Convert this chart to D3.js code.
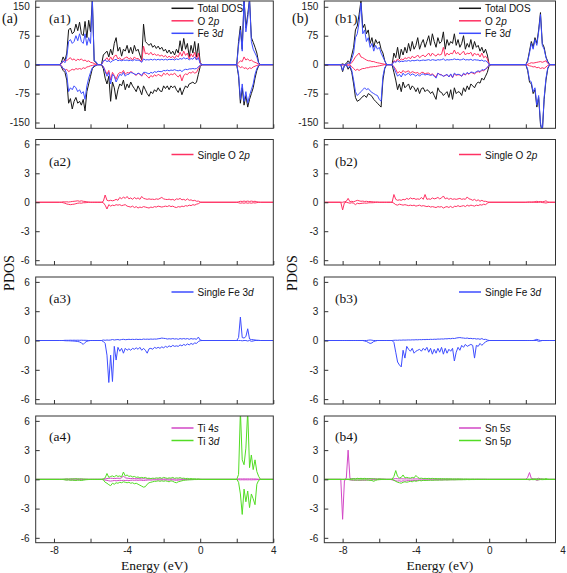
<!DOCTYPE html>
<html><head><meta charset="utf-8">
<script src="https://cdn.jsdelivr.net/npm/d3@7"></script>
<style>html,body{margin:0;padding:0;background:#fff;} svg{display:block;}</style>
</head><body>
<svg id="chart" width="567" height="573"></svg>
<script>
// ---------------- energy grids (eV) ----------------
const energyValenceA = [-7.7,-7.6,-7.5,-7.4,-7.3,-7.2,-7.1,-7.0,-6.9,-6.8,-6.7,-6.6,-6.5,-6.4,-6.3,-6.2,-6.1,-6.0,-5.9,-5.8,-5.7,-5.6];
const energyValenceB = [-8.2,-8.1,-8.0,-7.9,-7.8,-7.7,-7.6,-7.5,-7.4,-7.3,-7.2,-7.1,-7.0,-6.9,-6.8,-6.7,-6.6,-6.5,-6.4,-6.3,-6.2,-6.1,-6.0,-5.9,-5.8,-5.7,-5.6];
const energyMain = [-5.4,-5.3,-5.2,-5.1,-5.0,-4.9,-4.8,-4.7,-4.6,-4.5,-4.4,-4.3,-4.2,-4.1,-4.0,-3.9,-3.8,-3.7,-3.6,-3.5,-3.4,-3.3,-3.2,-3.1,-3.0,-2.9,-2.8,-2.7,-2.6,-2.5,-2.4,-2.3,-2.2,-2.1,-2.0,-1.9,-1.8,-1.7,-1.6,-1.5,-1.4,-1.3,-1.2,-1.1,-1.0,-0.9,-0.8,-0.7,-0.6,-0.5,-0.4,-0.3,-0.2,-0.1,0.0,0.1];
const energyConduction = [2.0,2.1,2.2,2.3,2.4,2.5,2.6,2.7,2.8,2.9,3.0,3.1,3.2,3.3];

// ---------------- tick labels ----------------
const xTickValues = [-8,-6,-4,-2,0,2,4];
const xTickLabels = [-8,-4,0,4];
const dosTicks = [-150,-75,0,75,150];
const pdosTicks = [-6,-3,0,3,6];

// ---------------- (a1) ----------------
const a1TotUp = [0, 5,20,10,30,90,95,80,85,105,88, 110,80,75,112,70,115,85,170,10,5, 0,
 0, 25,30,35,20,40,25,55,70,35,45, 22,40,35,50,30,45,28,50,35,40, 25,12,105,60,55,50,55,45,50,42, 48,40,45,35,40,30,38,28,35,25, 40,30,62,35,68,40,55,20,50,30, 60,20,55,5,0,
 0, 60,100,40,170,95,130,170,70,58,45, 30,5,0];
const a1TotDn = [0, -5,-15,-20,-40,-100,-88,-115,-95,-85,-100, -95,-105,-90,-120,-70,-50,-30,-10,-5,-2, 0,
 0, -10,-35,-50,-30,-95,-45,-60,-90,-65,-50, -55,-40,-65,-50,-60,-45,-55,-62,-70,-55, -65,-78,-55,-65,-75,-82,-70,-75,-65,-70, -60,-68,-70,-55,-62,-55,-65,-55,-60,-55, -65,-72,-60,-78,-65,-55,-60,-50,-48,-45, -50,-45,-25,-5,0,
 0, -30,-100,-60,-105,-80,-110,-90,-75,-60,-35, -15,-3,0];
const a1OUp = [0, 2,8,12,10,15,18,12,15,10,14, 12,15,10,12,8,10,6,5,3,1, 0,
 0, 8,12,18,10,20,12,22,25,15,18, 12,15,18,20,14,18,12,20,15,16, 12,8,48,28,30,26,32,25,28,24, 26,22,25,20,24,18,22,18,22,16, 24,20,32,22,35,24,30,15,28,20, 32,12,30,3,0,
 0, 5,10,8,20,12,15,10,12,8,6, 4,1,0];
const a1ODn = [0, -2,-10,-15,-12,-18,-15,-12,-14,-10,-12, -10,-12,-8,-10,-6,-5,-3,-2,-1,0, 0,
 0, -5,-15,-25,-15,-40,-20,-28,-38,-25,-20, -22,-15,-25,-20,-22,-18,-20,-25,-28,-22, -25,-30,-22,-25,-30,-35,-28,-32,-26,-30, -25,-28,-30,-22,-26,-22,-28,-24,-26,-22, -28,-32,-26,-42,-28,-24,-26,-20,-22,-18, -22,-20,-10,-2,0,
 0, -3,-8,-5,-10,-8,-12,-8,-10,-6,-4, -2,-1,0];
const a1FeUp = [0, 3,10,5,20,60,65,55,60,75,62, 80,60,55,80,50,70,55,165,10,8, 0,
 0, 10,12,8,10,6,10,12,14,10,12, 10,12,11,12,10,12,10,13,11,12, 10,6,15,12,13,12,14,12,14,12, 14,12,14,12,14,12,14,13,14,12, 15,13,16,14,18,15,17,12,16,14, 20,12,18,3,0,
 0, 50,90,35,170,85,120,170,60,40,30, 20,3,0];
const a1FeDn = [0, -3,-10,-12,-25,-70,-60,-65,-55,-60,-70, -65,-75,-70,-90,-55,-35,-20,-8,-3,-2, 0,
 0, -5,-18,-30,-20,-50,-25,-30,-45,-35,-25, -28,-20,-30,-25,-25,-20,-22,-24,-26,-22, -24,-28,-20,-20,-22,-24,-20,-22,-18,-20, -17,-18,-18,-15,-16,-14,-16,-14,-15,-13, -15,-16,-14,-18,-14,-12,-13,-11,-11,-10, -11,-10,-6,-1,0,
 0, -25,-90,-50,-95,-70,-100,-80,-65,-50,-25, -10,-2,0];

// ---------------- (a2) single O 2p ----------------
const a2OUp = [0, 0,0.05,0.03,0.05,0.02,0.05,0.08,0.1,0.12,0.15, 0.1,0.15,0.1,0.08,0.05,0.02,0,0,0,0, 0,
 0, 0.1,0.75,0.2,0.15,0.2,0.15,0.2,0.3,0.2,0.5, 0.35,0.55,0.4,0.6,0.35,0.45,0.3,0.5,0.35,0.45, 0.3,0.6,0.4,0.35,0.3,0.35,0.3,0.32,0.28,0.35, 0.3,0.4,0.5,0.35,0.3,0.28,0.32,0.25,0.3,0.2, 0.35,0.3,0.4,0.25,0.3,0.2,0.35,0.2,0.25,0.15, 0.2,0.1,0.12,0.02,0,
 0, 0.05,0.1,0.08,0.12,0.08,0.12,0.08,0.12,0.08,0.1, 0.05,0.02,0];
const a2ODn = [0, 0,-0.05,-0.1,-0.18,-0.22,-0.25,-0.22,-0.2,-0.15,-0.1, -0.08,-0.1,-0.05,-0.05,-0.03,0,0,0,0,0, 0,
 0, -0.05,-0.3,-0.7,-0.25,-0.4,-0.3,-0.35,-0.25,-0.3,-0.25, -0.35,-0.3,-0.25,-0.4,-0.45,-0.5,-0.4,-0.55,-0.45,-0.6, -0.5,-0.55,-0.45,-0.5,-0.55,-0.6,-0.5,-0.55,-0.45,-0.5, -0.4,-0.45,-0.5,-0.45,-0.4,-0.45,-0.35,-0.45,-0.4,-0.5, -0.55,-0.45,-0.5,-0.4,-0.45,-0.35,-0.4,-0.3,-0.35,-0.25, -0.3,-0.2,-0.15,-0.02,0,
 0, -0.05,-0.1,-0.06,-0.1,-0.05,-0.1,-0.06,-0.1,-0.05,-0.08, -0.04,-0.01,0];

// ---------------- (a3) single Fe 3d ----------------
const a3FeUp = [0, 0,0,0.02,0.02,0.02,0.03,0.02,0.03,0.02,0.03, 0.02,0.03,0.02,0.02,0.01,0,0,0,0,0, 0,
 0, 0.05,0.02,0.05,0.03,0.05,0.1,0.05,0.08,0.1,0.05, 0.1,0.12,0.08,0.1,0.12,0.1,0.12,0.1,0.13,0.1, 0.12,0.1,0.15,0.12,0.14,0.12,0.15,0.13,0.15,0.14, 0.18,0.2,0.25,0.22,0.2,0.15,0.18,0.15,0.2,0.15, 0.18,0.12,0.2,0.15,0.2,0.15,0.2,0.12,0.2,0.15, 0.18,0.12,0.35,0.05,0,
 0, 0.3,2.4,0.3,0.25,0.4,1.2,0.15,0.1,0.08,0.05, 0.03,0.02,0];
const a3FeDn = [0, 0,0,-0.02,-0.03,-0.03,-0.04,-0.05,-0.06,-0.08,-0.1, -0.15,-0.25,-0.4,-0.2,-0.08,-0.03,0,0,0,0, 0,
 0, -0.1,-0.3,-1.5,-4.3,-1.5,-4.2,-0.6,-2.0,-0.7,-1.1, -0.8,-1.3,-0.8,-1.0,-0.85,-1.0,-0.8,-0.9,-0.75,-0.9, -0.7,-1.0,-0.8,-1.0,-1.3,-0.85,-0.8,-0.9,-0.7,-0.8, -0.7,-0.8,-0.65,-0.75,-0.6,-0.7,-0.55,-0.65,-0.5,-0.6, -0.55,-0.6,-0.45,-0.55,-0.4,-0.5,-0.35,-0.45,-0.3,-0.4, -0.25,-0.3,-0.1,-0.02,0,
 0, 0,0,-0.03,0,0,-0.05,0,-0.08,-0.05,0, 0,0,0];

// ---------------- (a4) Ti 4s / Ti 3d ----------------
const a4TisUp = [0, 0,0,0.02,0.03,0.02,0.03,0.05,0.04,0.05,0.03, 0.04,0.03,0.02,0.02,0.01,0,0,0,0,0, 0,
 0, 0.02,0.05,0.08,0.1,0.12,0.1,0.08,0.1,0.12,0.1, 0.15,0.35,0.15,0.12,0.1,0.08,0.1,0.08,0.06,0.08, 0.06,0.05,0.06,0.05,0.04,0.05,0.04,0.05,0.04,0.03, 0.04,0.05,0.04,0.03,0.04,0.03,0.04,0.03,0.04,0.03, 0.03,0.02,0.03,0.02,0.03,0.02,0.02,0.02,0.01,0.01, 0.01,0.01,0.01,0,0,
 0, 0.05,0.05,0.04,0.05,0.04,0.05,0.04,0.05,0.04,0.04, 0.03,0.01,0];
const a4TisDn = [0, 0,0,-0.03,-0.05,-0.04,-0.06,-0.05,-0.08,-0.06,-0.05, -0.04,-0.05,-0.03,-0.02,-0.01,0,0,0,0,0, 0,
 0, -0.02,-0.08,-0.1,-0.15,-0.18,-0.15,-0.12,-0.15,-0.12,-0.1, -0.12,-0.1,-0.12,-0.1,-0.12,-0.1,-0.08,-0.1,-0.08,-0.1, -0.08,-0.1,-0.12,-0.1,-0.08,-0.06,-0.08,-0.06,-0.05,-0.06, -0.05,-0.06,-0.05,-0.06,-0.05,-0.06,-0.08,-0.05,-0.06,-0.08, -0.1,-0.08,-0.06,-0.05,-0.04,-0.03,-0.03,-0.02,-0.02,-0.02, -0.01,-0.01,-0.01,0,0,
 0, -0.04,-0.05,-0.04,-0.05,-0.04,-0.05,-0.04,-0.05,-0.04,-0.04, -0.03,-0.01,0];
const a4TidUp = [0, 0,0.02,0.03,0.05,0.03,0.05,0.04,0.05,0.06,0.05, 0.04,0.05,0.03,0.02,0.02,0.01,0,0,0,0, 0,
 0, 0.05,0.15,0.6,0.2,0.3,0.35,0.25,0.4,0.3,0.35, 0.25,0.75,0.35,0.45,0.3,0.35,0.25,0.3,0.2,0.25, 0.15,0.2,0.15,0.2,0.1,0.12,0.08,0.12,0.1,0.15, 0.12,0.18,0.1,0.2,0.15,0.1,0.15,0.12,0.2,0.1, 0.15,0.12,0.18,0.1,0.12,0.08,0.1,0.05,0.08,0.05, 0.06,0.03,0.05,0.01,0,
 0, 0.5,7,2,1.5,3.2,7,1.2,2.5,1.0,2.0, 0.8,0.3,0];
const a4TidDn = [0, 0,-0.02,-0.05,-0.08,-0.05,-0.1,-0.08,-0.1,-0.12,-0.08, -0.1,-0.12,-0.08,-0.05,-0.03,-0.02,0,0,0,0, 0,
 0, -0.05,-0.3,-0.4,-0.55,-0.65,-0.4,-0.5,-0.35,-0.4,-0.3, -0.35,-0.25,-0.3,-0.35,-0.3,-0.4,-0.35,-0.45,-0.4,-0.5, -0.6,-0.7,-0.8,-0.75,-0.5,-0.35,-0.3,-0.25,-0.2,-0.2, -0.15,-0.2,-0.15,-0.2,-0.15,-0.2,-0.25,-0.15,-0.2,-0.3, -0.35,-0.25,-0.2,-0.15,-0.1,-0.08,-0.06,-0.05,-0.04,-0.03, -0.02,-0.02,-0.01,0,0,
 0, -0.3,-1.5,-3.6,-1.0,-2.3,-1.2,-2.9,-1.5,-2.0,-2.6, -0.5,-0.1,0];

// ---------------- (b1) ----------------
const b1TotUp = [0,0, 2,0,3,10,5,25,45,90,100,130, 165,95,105,80,90,55,70,45,65,55, 60,40,30,10,0,
 0, 0,30,18,45,15,40,25,45,30,55, 35,60,40,50,70,40,55,65,45,60, 75,50,80,60,45,70,55,60,85,40, 65,50,60,55,80,50,65,45,55,75, 40,55,45,65,40,60,45,50,35,45, 30,40,25,0,0,
 0, 10,35,60,45,70,55,90,135,55,45, 20,8,0];
const b1TotDn = [0,0, -18,-2,0,-12,-5,-20,-50,-85,-95,-92, -88,-82,-80,-85,-75,-78,-82,-90,-95,-100, -105,-110,-40,-10,0,
 0, 0,-20,-40,-65,-50,-70,-45,-60,-55,-50, -65,-55,-60,-70,-60,-75,-62,-60,-70,-65, -68,-75,-70,-80,-90,-60,-70,-72,-80,-75, -70,-85,-65,-90,-60,-75,-70,-72,-80,-60, -70,-55,-65,-50,-55,-60,-50,-45,-48,-35, -40,-30,-20,-2,0,
 0, -15,-45,-50,-75,-65,-110,-85,-155,-175,-90, -40,-10,0];
const b1OUp = [0,0, 0,0,0,2,1,5,12,20,25,30, 20,18,15,12,10,10,8,8,6,5, 4,3,2,1,0,
 0, 0,10,8,15,10,15,12,18,15,20, 15,22,18,20,25,18,22,25,20,25, 30,22,30,25,22,28,25,27,45,22, 30,25,30,28,38,28,32,25,30,35, 25,30,28,32,22,30,25,28,20,30, 18,22,15,0,0,
 0, 1,3,5,4,5,6,7,8,6,8, 10,3,0];
const b1ODn = [0,0, -1,0,0,-2,-1,-5,-10,-15,-12,-15, -12,-10,-10,-8,-8,-6,-6,-5,-5,-4, -3,-2,-1,0,0,
 0, 0,-5,-12,-22,-18,-22,-15,-20,-18,-16, -22,-18,-20,-22,-20,-25,-20,-20,-24,-22, -22,-26,-24,-28,-32,-22,-25,-26,-30,-28, -26,-32,-25,-34,-24,-28,-26,-27,-30,-24, -27,-22,-25,-20,-22,-24,-20,-18,-20,-15, -16,-12,-8,-1,0,
 0, -1,-3,-4,-6,-5,-8,-7,-10,-8,-10, -6,-2,0];
const b1FeUp = [0,0, 0,0,0,5,2,15,30,70,80,110, 160,80,90,60,70,45,55,35,50,40, 45,30,20,10,0,
 0, 0,8,6,10,7,9,8,10,9,11, 9,11,10,11,12,10,11,12,11,12, 13,11,13,12,11,13,12,13,15,11, 13,12,13,13,15,13,14,12,13,15, 12,13,12,14,11,13,12,12,10,12, 9,10,7,0,0,
 0, 8,30,55,40,65,50,85,130,50,40, 18,6,0];
const b1FeDn = [0,0, -15,-2,0,-8,-3,-15,-40,-70,-80,-75, -70,-65,-60,-65,-62,-68,-72,-75,-78,-80, -90,-95,-30,-8,0,
 0, 0,-8,-20,-30,-25,-32,-22,-28,-25,-22, -28,-24,-26,-30,-25,-30,-25,-24,-27,-25, -26,-28,-26,-30,-35,-22,-26,-27,-30,-28, -25,-32,-24,-33,-22,-26,-25,-26,-30,-22, -26,-20,-24,-19,-20,-22,-18,-16,-18,-13, -14,-11,-7,-1,0,
 0, -12,-40,-45,-70,-60,-105,-80,-150,-175,-85, -35,-8,0];

// ---------------- (b2) single O 2p ----------------
const b2OUp = [0,0, 0,0.05,0.1,0.4,0.05,0.1,0.05,0.12,0.2,0.15, 0.1,0.12,0.08,0.1,0.06,0.08,0.05,0.04,0.03,0.02, 0,0,0,0,0,
 0, 0,0.8,0.3,0.2,0.25,0.2,0.3,0.25,0.4,0.3, 0.45,0.35,0.4,0.3,0.35,0.3,0.5,0.3,0.8,0.3, 0.35,0.3,0.45,0.35,0.4,0.5,0.35,0.45,0.65,0.35, 0.45,0.3,0.4,0.3,0.35,0.3,0.35,0.4,0.3,0.35, 0.3,0.55,0.35,0.3,0.2,0.3,0.15,0.25,0.1,0.2, 0.1,0.1,0.05,0,0,
 0, 0.02,0.03,0.02,0.03,0.05,0.1,0.05,0.08,0.05,0.08, 0.15,0.03,0];
const b2ODn = [0,0, -0.8,-0.05,0,-0.05,-0.1,-0.05,-0.1,-0.25,-0.1,-0.15, -0.12,-0.1,-0.08,-0.1,-0.06,-0.05,-0.05,-0.04,-0.02,0, 0,0,0,0,0,
 0, 0,-0.1,-0.25,-0.3,-0.2,-0.25,-0.3,-0.25,-0.3,-0.35, -0.3,-0.35,-0.3,-0.4,-0.35,-0.3,-0.4,-0.35,-0.4,-0.45, -0.4,-0.5,-0.45,-0.5,-0.55,-0.45,-0.5,-0.45,-0.6,-0.5, -0.45,-0.55,-0.4,-0.6,-0.4,-0.45,-0.35,-0.45,-0.4,-0.35, -0.45,-0.3,-0.4,-0.3,-0.35,-0.4,-0.3,-0.35,-0.25,-0.3, -0.2,-0.25,-0.1,0,0,
 0, 0,0,0,0,0,-0.03,0,0,-0.03,-0.05, -0.08,-0.03,0];

// ---------------- (b3) single Fe 3d ----------------
const b3FeUp = [0,0, 0,0,0,0,0,0,0,0,0,0, 0,0,0,0,0.03,0.05,0.03,0,0,0, 0,0,0,0,0,
 0, 0,0.02,0.03,0.02,0.04,0.03,0.05,0.04,0.05,0.06, 0.05,0.07,0.06,0.08,0.07,0.09,0.08,0.1,0.09,0.11, 0.1,0.12,0.11,0.13,0.12,0.15,0.14,0.16,0.15,0.18, 0.17,0.2,0.18,0.22,0.2,0.25,0.28,0.3,0.27,0.25, 0.22,0.25,0.2,0.22,0.18,0.2,0.15,0.18,0.12,0.2, 0.1,0.12,0.05,0,0,
 0, 0,0,0,0,0.05,0.12,0.05,0,0,0, 0,0,0];
const b3FeDn = [0,0, 0,0,0,0,0,0,0,0,0,0, 0,0,-0.05,-0.1,-0.2,-0.3,-0.25,-0.1,-0.05,0, 0,0,0,0,0,
 0, 0,-0.2,-1.2,-2.2,-2.5,-2.7,-1.0,-1.8,-0.6,-0.9, -1.1,-0.8,-1.3,-1.1,-1.0,-0.9,-1.1,-0.8,-1.0,-0.7, -1.2,-0.8,-1.4,-0.9,-1.3,-0.8,-1.2,-0.7,-1.4,-0.8, -1.3,-0.9,-1.1,-0.8,-2.1,-1.2,-0.7,-1.0,-0.5,-0.7, -0.4,-0.6,-0.5,-0.4,-0.5,-1.8,-0.5,-0.6,-0.3,-0.5, -0.3,-0.15,-0.05,0,0,
 0, 0,0,0,0,0,0,-0.08,-0.05,0,0, 0,0,0];

// ---------------- (b4) Sn 5s / Sn 5p ----------------
const b4SnsUp = [0,0, 0,0,0.1,3.0,0.1,0.05,0.08,0.05,0.1,0.05, 0.08,0.05,0.06,0.05,0.08,0.05,0.06,0.04,0.05,0.03, 0.05,0.03,0.02,0.01,0,
 0, 0.02,0.05,0.08,0.06,0.05,0.06,0.05,0.04,0.05,0.04, 0.05,0.04,0.05,0.04,0.05,0.04,0.03,0.04,0.03,0.04, 0.03,0.04,0.03,0.04,0.03,0.03,0.02,0.03,0.02,0.03, 0.02,0.03,0.02,0.02,0.02,0.02,0.02,0.02,0.02,0.01, 0.01,0.01,0.01,0.01,0.01,0.01,0.01,0.01,0.01,0.01, 0,0,0,0,0,
 0, 0.2,0.7,0.1,0.05,0.02,0.05,0.12,0.05,0.02,0, 0,0,0];
const b4SnsDn = [0,0, -4.1,-0.1,0,0,-0.05,-0.08,-0.1,-0.08,-0.1,-0.08, -0.1,-0.08,-0.1,-0.08,-0.06,-0.08,-0.05,-0.04,-0.03,-0.02, -0.02,-0.01,0,0,0,
 0, -0.05,-0.1,-0.15,-0.18,-0.15,-0.2,-0.15,-0.18,-0.15,-0.12, -0.15,-0.12,-0.1,-0.12,-0.1,-0.08,-0.1,-0.08,-0.07,-0.08, -0.07,-0.06,-0.07,-0.06,-0.05,-0.06,-0.05,-0.06,-0.05,-0.04, -0.05,-0.04,-0.03,-0.04,-0.03,-0.03,-0.02,-0.03,-0.02,-0.02, -0.02,-0.01,-0.02,-0.01,-0.01,-0.01,-0.01,-0.01,0,0, 0,0,0,0,0,
 0, 0,-0.05,0,0,0,-0.1,-0.05,0,0,0, 0,0,0];
const b4SnpUp = [0,0, 0,0,0,0.02,0.03,0.05,0.08,0.05,0.1,0.08, 0.1,0.08,0.1,0.08,0.06,0.08,0.05,0.06,0.04,0.03, 0.05,0.03,0.02,0.01,0,
 0, 0,0.3,0.9,0.3,0.15,0.2,0.45,0.15,0.2,0.15, 0.12,0.2,0.15,0.4,0.2,0.1,0.12,0.08,0.1,0.08, 0.1,0.08,0.1,0.07,0.08,0.06,0.08,0.06,0.07,0.05, 0.06,0.05,0.06,0.04,0.05,0.04,0.05,0.04,0.04,0.03, 0.04,0.03,0.03,0.02,0.03,0.02,0.02,0.02,0.01,0.01, 0.01,0.01,0,0,0,
 0, 0.02,0.03,0.02,0.03,0.05,0.03,0.04,0.03,0.05,0.03, 0.08,0.02,0];
const b4SnpDn = [0,0, 0,0,0,-0.02,-0.03,-0.05,-0.05,-0.08,-0.05,-0.08, -0.05,-0.06,-0.05,-0.06,-0.08,-0.1,-0.12,-0.2,-0.1,-0.05, -0.03,-0.02,-0.01,0,0,
 0, 0,-0.1,-0.2,-0.3,-0.35,-0.4,-0.3,-0.25,-0.3,-0.25, -0.2,-0.25,-0.15,-0.2,-0.15,-0.12,-0.15,-0.1,-0.12,-0.1, -0.1,-0.08,-0.1,-0.08,-0.07,-0.08,-0.06,-0.07,-0.06,-0.05, -0.06,-0.05,-0.05,-0.04,-0.05,-0.04,-0.04,-0.03,-0.04,-0.03, -0.03,-0.02,-0.03,-0.02,-0.02,-0.02,-0.01,-0.01,-0.01,-0.01, 0,0,0,0,0,
 0, -0.02,-0.03,-0.02,-0.03,-0.02,-0.04,-0.03,-0.02,-0.03,-0.02, -0.02,-0.01,0];

// ---------------- drawing ----------------
const energyA = energyValenceA.concat(energyMain, energyConduction);
const energyB = energyValenceB.concat(energyMain, energyConduction);

const COLORS = {black:'#161616', red:'#ff3163', blue:'#3d4cff', green:'#52dc24', magenta:'#d247c6', frame:'#333'};
const SANS = "'Liberation Sans', Arial, sans-serif";
const SERIF = "'Liberation Serif', 'Times New Roman', serif";

const columns = [
  {x0: 35.7, x1: 273.3, domain: [-9, 4], energy: energyA, labelX: 49, letter: '(a)', letterX: 2, pdosX: 9, legLine: 171.5},
  {x0: 324.3, x1: 555.5, domain: [-9, 3.62], energy: energyB, labelX: 335, letter: '(b)', letterX: 292, pdosX: 292, legLine: 459}
];
const rowsLayout = [
  {y0: 1, y1: 128.3, domain: [-165, 165], ticks: dosTicks, labelY: 18, legY: 8.3},
  {y0: 139.5, y1: 265, domain: [-6.5, 6.5], ticks: pdosTicks, labelY: 161, legY: 154.5},
  {y0: 277, y1: 404, domain: [-6.5, 6.5], ticks: pdosTicks, labelY: 298, legY: 292},
  {y0: 416, y1: 542.7, domain: [-6.5, 6.5], ticks: pdosTicks, labelY: 436.5, legY: 428}
];

const panels = [
  {col:0,row:0,label:'(a1)',series:[
    {parts:['Total DOS',''],color:COLORS.black,up:a1TotUp,dn:a1TotDn},
    {parts:['O 2','p'],color:COLORS.red,up:a1OUp,dn:a1ODn},
    {parts:['Fe 3','d'],color:COLORS.blue,up:a1FeUp,dn:a1FeDn}]},
  {col:0,row:1,label:'(a2)',series:[{parts:['Single O 2','p'],color:COLORS.red,up:a2OUp,dn:a2ODn}]},
  {col:0,row:2,label:'(a3)',series:[{parts:['Single Fe 3','d'],color:COLORS.blue,up:a3FeUp,dn:a3FeDn}]},
  {col:0,row:3,label:'(a4)',series:[
    {parts:['Ti 4','s'],color:COLORS.magenta,up:a4TisUp,dn:a4TisDn},
    {parts:['Ti 3','d'],color:COLORS.green,up:a4TidUp,dn:a4TidDn}]},
  {col:1,row:0,label:'(b1)',series:[
    {parts:['Total DOS',''],color:COLORS.black,up:b1TotUp,dn:b1TotDn},
    {parts:['O 2','p'],color:COLORS.red,up:b1OUp,dn:b1ODn},
    {parts:['Fe 3','d'],color:COLORS.blue,up:b1FeUp,dn:b1FeDn}]},
  {col:1,row:1,label:'(b2)',series:[{parts:['Single O 2','p'],color:COLORS.red,up:b2OUp,dn:b2ODn}]},
  {col:1,row:2,label:'(b3)',series:[{parts:['Single Fe 3','d'],color:COLORS.blue,up:b3FeUp,dn:b3FeDn}]},
  {col:1,row:3,label:'(b4)',series:[
    {parts:['Sn 5','s'],color:COLORS.magenta,up:b4SnsUp,dn:b4SnsDn},
    {parts:['Sn 5','p'],color:COLORS.green,up:b4SnpUp,dn:b4SnpDn}]}
];

const svg = d3.select('#chart');
const defs = svg.append('defs');

panels.forEach((p, i) => {
  const c = columns[p.col], r = rowsLayout[p.row];
  const x = d3.scaleLinear().domain(c.domain).range([c.x0, c.x1]);
  const y = d3.scaleLinear().domain(r.domain).range([r.y1, r.y0]);
  const g = svg.append('g');
  const clipId = 'clip' + i;
  defs.append('clipPath').attr('id', clipId).append('rect')
    .attr('x', c.x0).attr('y', r.y0).attr('width', c.x1 - c.x0).attr('height', r.y1 - r.y0);
  const plot = g.append('g').attr('clip-path', `url(#${clipId})`);
  const line = d3.line().x(d => x(d[0])).y(d => y(d[1]));
  p.series.forEach(s => {
    [s.up, s.dn].forEach(vals => {
      if (vals.length !== c.energy.length) console.error('length mismatch', p.label, s.parts.join(''), vals.length, c.energy.length);
      const pts = [[c.domain[0], 0]].concat(c.energy.map((e, k) => [e, vals[k] ?? 0]), [[c.domain[1], 0]]);
      plot.append('path').attr('d', line(pts)).attr('fill', 'none')
        .attr('stroke', s.color).attr('stroke-width', 1).attr('stroke-linejoin', 'round');
    });
  });

  // frame
  g.append('rect').attr('x', c.x0).attr('y', r.y0).attr('width', c.x1 - c.x0).attr('height', r.y1 - r.y0)
    .attr('fill', 'none').attr('stroke', COLORS.frame).attr('stroke-width', 1);

  // y axis
  const ya = g.append('g').attr('transform', `translate(${c.x0},0)`)
    .call(d3.axisLeft(y).tickValues(r.ticks).tickSizeInner(-4).tickSizeOuter(0).tickPadding(6).tickFormat(d => String(d)));
  ya.select('.domain').remove();
  ya.selectAll('line').attr('stroke', COLORS.frame);
  ya.selectAll('text').attr('font-family', SANS).attr('font-size', 10).attr('fill', '#222');

  // x ticks
  const xt = g.append('g').attr('transform', `translate(0,${r.y1})`)
    .call(d3.axisBottom(x).tickValues(xTickValues.filter(v => v >= c.domain[0] && v <= c.domain[1]))
      .tickSizeInner(-4).tickSizeOuter(0).tickFormat(() => ''));
  xt.select('.domain').remove();
  xt.selectAll('line').attr('stroke', COLORS.frame);

  if (p.row === 3) {
    const xl = g.append('g').attr('transform', `translate(0,${r.y1})`)
      .call(d3.axisBottom(x).tickValues(xTickLabels).tickSize(0).tickPadding(4).tickFormat(d => String(d)));
    xl.select('.domain').remove();
    xl.selectAll('text').attr('font-family', SANS).attr('font-size', 10).attr('fill', '#222');
    g.append('text').attr('x', (c.x0 + c.x1) / 2).attr('y', 569.5).attr('text-anchor', 'middle')
      .attr('font-family', SERIF).attr('font-size', 13.5).attr('fill', '#111').text('Energy (eV)');
  }

  // panel label
  g.append('text').attr('x', c.labelX).attr('y', r.labelY).attr('dominant-baseline', 'central')
    .attr('font-family', SERIF).attr('font-size', 13.5).attr('fill', '#111').text(p.label);

  // legend
  p.series.forEach((s, k) => {
    const ly = r.legY + k * 12.5;
    g.append('line').attr('x1', c.legLine).attr('x2', c.legLine + 22).attr('y1', ly).attr('y2', ly)
      .attr('stroke', s.color).attr('stroke-width', 1.5);
    const t = g.append('text').attr('x', c.legLine + 26).attr('y', ly).attr('dominant-baseline', 'central')
      .attr('font-family', SANS).attr('font-size', 10).attr('fill', '#111');
    t.append('tspan').text(s.parts[0]);
    if (s.parts[1]) t.append('tspan').attr('font-style', 'italic').text(s.parts[1]);
  });
});

// column letters and PDOS labels
columns.forEach(c => {
  svg.append('text').attr('x', c.letterX).attr('y', 18).attr('dominant-baseline', 'central')
    .attr('font-family', SERIF).attr('font-size', 14).attr('fill', '#111').text(c.letter);
  svg.append('text').attr('transform', `translate(${c.pdosX},273) rotate(-90)`)
    .attr('text-anchor', 'middle').attr('dominant-baseline', 'central')
    .attr('font-family', SERIF).attr('font-size', 14).attr('fill', '#111').text('PDOS');
});
</script>
</body></html>
